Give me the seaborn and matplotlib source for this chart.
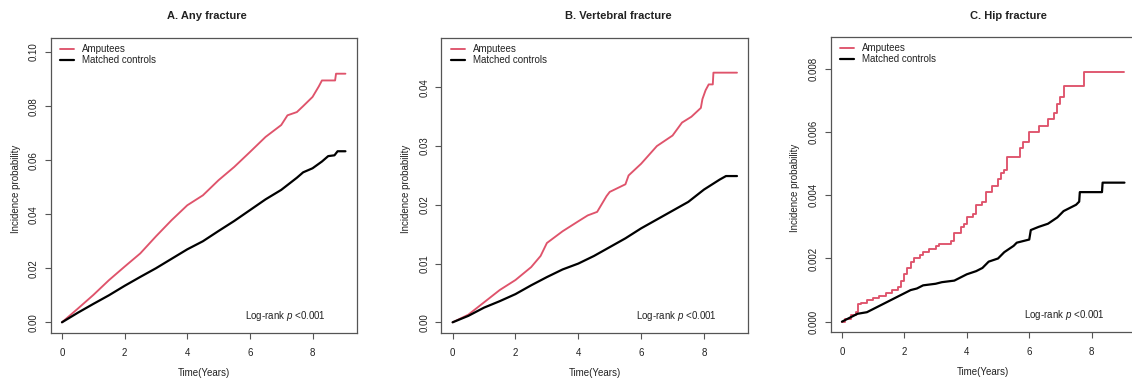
#!/usr/bin/env python
# -*- coding: utf-8 -*-
"""
Cumulative incidence of fracture, amputees vs matched controls (3 panels).
"""
import matplotlib
matplotlib.use("Agg")
import matplotlib.pyplot as plt
import pandas as pd
import seaborn as sns

# Data #

SERIES_LABELS = ["Amputees", "Matched controls"]
PANEL_TITLES = ["A. Any fracture", "B. Vertebral fracture", "C. Hip fracture"]

# A. any fracture
any_amp_t = [0, 0.25, 0.5, 1, 1.5, 2, 2.5, 3, 3.5, 4, 4.5, 5, 5.5, 6, 6.5, 7, 7.2, 7.5,
             7.7, 8, 8.2, 8.3, 8.72, 8.75, 9.05]
any_amp_v = [0, 0.0025, 0.005, 0.0101, 0.0156, 0.0206, 0.0255, 0.0318, 0.0378, 0.0433,
             0.047, 0.0526, 0.0575, 0.063, 0.0686, 0.073, 0.0766, 0.0778, 0.080, 0.0834,
             0.0873, 0.0895, 0.0895, 0.092, 0.092]
any_ctl_t = [0, 0.5, 1, 1.5, 2, 2.5, 3, 3.5, 4, 4.5, 5, 5.5, 6, 6.5, 7, 7.5, 7.7, 8, 8.3,
             8.5, 8.7, 8.8, 9.05]
any_ctl_v = [0, 0.0035, 0.0068, 0.0100, 0.0135, 0.0168, 0.0200, 0.0235, 0.0270, 0.0300,
             0.0338, 0.0375, 0.0415, 0.0455, 0.0490, 0.0535, 0.0555, 0.0570, 0.0595,
             0.0615, 0.0618, 0.0633, 0.0633]

# B. vertebral fracture
vert_amp_t = [0, 0.5, 1, 1.5, 2, 2.5, 2.8, 3, 3.5, 4, 4.3, 4.6, 4.9, 5, 5.5, 5.6, 6, 6.5,
              7, 7.3, 7.6, 7.9, 7.95, 8.05, 8.15, 8.28, 8.3, 9.05]
vert_amp_v = [0, 0.0013, 0.0034, 0.0055, 0.0072, 0.0094, 0.0113, 0.0135, 0.0155, 0.0172,
              0.0182, 0.0188, 0.0215, 0.0222, 0.0235, 0.0250, 0.0270, 0.0300, 0.0318,
              0.0340, 0.0350, 0.0365, 0.0380, 0.0395, 0.0405, 0.0405, 0.0425, 0.0425]
vert_ctl_t = [0, 0.5, 1, 1.5, 2, 2.5, 3, 3.5, 4, 4.5, 5, 5.5, 6, 6.5, 7, 7.5, 8, 8.5, 8.7,
              9.05]
vert_ctl_v = [0, 0.0011, 0.0025, 0.0036, 0.0048, 0.0063, 0.0077, 0.0090, 0.0100, 0.0113,
              0.0128, 0.0143, 0.0160, 0.0175, 0.0190, 0.0205, 0.0226, 0.0243, 0.0249,
              0.0249]

# C. hip fracture (amputees drawn as steps, controls mostly smooth with a few jumps)
hip_amp_t = [0, 0.1, 0.3, 0.45, 0.5, 0.6, 0.8, 1.0, 1.2, 1.4, 1.6, 1.8, 1.9, 2.0, 2.1,
             2.2, 2.3, 2.5, 2.6, 2.8, 3.0, 3.1, 3.5, 3.6, 3.8, 3.9, 4.0, 4.2, 4.3, 4.5,
             4.6, 4.8, 5.0, 5.1, 5.2, 5.3, 5.7, 5.8, 6.0, 6.3, 6.6, 6.8, 6.9, 7.0, 7.1,
             7.75, 9.05]
hip_amp_v = [0, 0.0001, 0.0002, 0.0003, 0.00055, 0.0006, 0.0007, 0.00075, 0.0008, 0.0009,
             0.001, 0.0011, 0.0013, 0.0015, 0.0017, 0.0019, 0.002, 0.0021, 0.0022, 0.0023,
             0.0024, 0.00245, 0.00255, 0.0028, 0.003, 0.0031, 0.0033, 0.0034, 0.0037,
             0.0038, 0.0041, 0.0043, 0.0045, 0.0047, 0.0048, 0.0052, 0.0055, 0.0057,
             0.006, 0.0062, 0.0064, 0.0066, 0.0069, 0.0071, 0.00745, 0.0079, 0.0079]
hip_ctl_t = [0, 0.3, 0.5, 0.8, 1.0, 1.2, 1.5, 1.8, 2.0, 2.2, 2.4, 2.6, 3.0, 3.2, 3.6, 3.8,
             4.0, 4.3, 4.5, 4.7, 5.0, 5.2, 5.5, 5.6, 6.0, 6.05, 6.3, 6.6, 6.9, 7.1, 7.3,
             7.5, 7.6, 7.62, 8.33, 8.35, 9.05]
hip_ctl_v = [0, 0.00015, 0.00025, 0.0003, 0.0004, 0.0005, 0.00065, 0.0008, 0.0009, 0.001,
             0.00105, 0.00115, 0.0012, 0.00125, 0.0013, 0.0014, 0.0015, 0.0016, 0.0017,
             0.0019, 0.002, 0.0022, 0.0024, 0.0025, 0.0026, 0.0029, 0.003, 0.0031,
             0.0033, 0.0035, 0.0036, 0.0037, 0.0038, 0.0041, 0.0041, 0.0044, 0.0044]

x_ticks = [0, 2, 4, 6, 8]
any_y_ticks = [0.00, 0.02, 0.04, 0.06, 0.08, 0.10]
vert_y_ticks = [0.00, 0.01, 0.02, 0.03, 0.04]
hip_y_ticks = [0.000, 0.002, 0.004, 0.006, 0.008]

# Style #

AMP_COLOR = "#DF536B"
CTL_COLOR = "black"
TEXT_COLOR = "#222222"
EDGE_COLOR = "#555555"

sns.set_theme(style="white")
plt.rcParams["font.family"] = ["Liberation Sans", "DejaVu Sans"]
plt.rcParams["mathtext.fontset"] = "custom"
plt.rcParams["mathtext.rm"] = "Liberation Sans"
plt.rcParams["mathtext.it"] = "Liberation Sans:italic"
plt.rcParams["text.color"] = TEXT_COLOR
plt.rcParams["axes.labelcolor"] = TEXT_COLOR
plt.rcParams["xtick.color"] = EDGE_COLOR
plt.rcParams["ytick.color"] = EDGE_COLOR
plt.rcParams["xtick.labelcolor"] = TEXT_COLOR
plt.rcParams["ytick.labelcolor"] = TEXT_COLOR

W, H = 1132.0, 383.0


def make_frame(t_amp, v_amp, t_ctl, v_ctl):
    amp = pd.DataFrame({"time": t_amp, "prob": v_amp, "group": SERIES_LABELS[0]})
    ctl = pd.DataFrame({"time": t_ctl, "prob": v_ctl, "group": SERIES_LABELS[1]})
    return amp, ctl


def draw_panel(fig, box, title_x, title, frames, y_ticks, y_fmt, ylim, amp_steps=False):
    left, top, width, height = box
    ax = fig.add_axes([left / W, (H - top - height) / H, width / W, height / H])
    kw = {"drawstyle": "steps-post"} if amp_steps else {}
    amp, ctl = frames
    sns.lineplot(data=amp, x="time", y="prob", ax=ax, color=AMP_COLOR, lw=1.35,
                 estimator=None, sort=False, label=SERIES_LABELS[0], **kw)
    sns.lineplot(data=ctl, x="time", y="prob", ax=ax, color=CTL_COLOR, lw=1.6,
                 estimator=None, sort=False, label=SERIES_LABELS[1])

    ax.set_xlim(-0.36, 9.41)
    ax.set_ylim(*ylim)
    ax.set_xticks(x_ticks)
    ax.set_xticklabels([str(t) for t in x_ticks])
    ax.set_yticks(y_ticks)
    ax.set_yticklabels([y_fmt.format(v) for v in y_ticks], rotation=90, va="center")
    ax.tick_params(axis="both", direction="out", length=4.3, width=0.8, labelsize=7,
                   bottom=True, left=True)
    ax.tick_params(axis="x", pad=6.5)
    ax.tick_params(axis="y", pad=4.3)
    for sp in ax.spines.values():
        sp.set_color(EDGE_COLOR)
        sp.set_linewidth(0.9)

    ax.set_xlabel("Time(Years)", fontsize=7)
    ax.xaxis.label.set_va("center")
    ax.xaxis.set_label_coords(0.5, -40.0 / height)
    ax.set_ylabel("Incidence probability", fontsize=7)
    ax.yaxis.label.set_va("center")
    ax.yaxis.set_label_coords(-35.2 / width, 0.49)

    ax.legend(loc="upper left", bbox_to_anchor=(9.5 / width, 1 - 6.0 / height),
              frameon=False, fontsize=7, handlelength=1.45, handletextpad=0.8,
              labelspacing=0.12, borderpad=0, borderaxespad=0)
    ax.text(0.766, 0.058, r"Log-rank $p$ <0.001", transform=ax.transAxes,
            ha="center", va="center", fontsize=7)
    fig.text(title_x / W, 1 - 16.0 / H, title, ha="center", va="center",
             fontsize=8, fontweight="bold")
    return ax


def main():
    fig = plt.figure(figsize=(W / 100, H / 100), dpi=100)

    draw_panel(fig, (50.7, 38.3, 306, 295), 207, PANEL_TITLES[0],
               make_frame(any_amp_t, any_amp_v, any_ctl_t, any_ctl_v),
               any_y_ticks, "{:.2f}", (-0.00407, 0.1051))
    draw_panel(fig, (441.3, 38.3, 307, 295), 618, PANEL_TITLES[1],
               make_frame(vert_amp_t, vert_amp_v, vert_ctl_t, vert_ctl_v),
               vert_y_ticks, "{:.2f}", (-0.00187, 0.04835))
    # third panel runs past the right edge of the picture, as in the source image
    draw_panel(fig, (830.7, 37.3, 305, 295), 1008, PANEL_TITLES[2],
               make_frame(hip_amp_t, hip_amp_v, hip_ctl_t, hip_ctl_v),
               hip_y_ticks, "{:.3f}", (-0.000336, 0.0090), amp_steps=True)

    fig.savefig("out.png", dpi=100, facecolor="white")
    print("Wrote file: out.png")


if __name__ == '__main__':
    main()
